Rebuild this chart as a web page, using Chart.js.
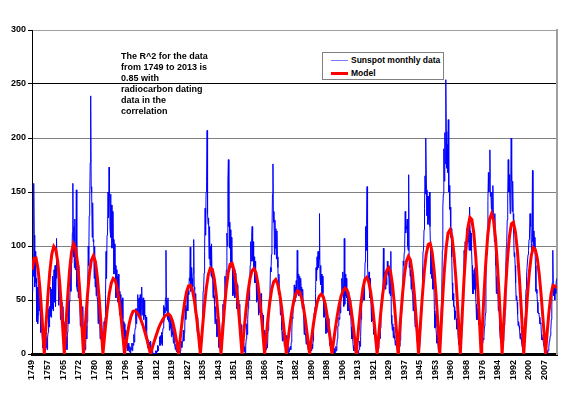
<!DOCTYPE html>
<html>
<head>
<meta charset="utf-8">
<script src="https://cdn.jsdelivr.net/npm/chart.js@4.4.1/dist/chart.umd.min.js"></script>
<style>
  body { margin: 0; background: #fff; }
  #wrap { position: relative; width: 580px; height: 395px; }
  #note {
    position: absolute; left: 121px; top: 51px;
    font: bold 9px "Liberation Sans", Arial, sans-serif;
    line-height: 11.1px; color: #000;
  }
  #legend {
    position: absolute; left: 322px; top: 52px; width: 120px; height: 26px;
    border: 1px solid #808080; background: #fff;
    font: bold 8.5px "Liberation Sans", Arial, sans-serif; color: #000;
  }
  #legend .item { position: absolute; left: 0; height: 12px; line-height: 12px; white-space: nowrap; }
  #legend .swatch { position: absolute; left: 8px; width: 17px; top: 6px; }
  #legend .txt { position: absolute; left: 28px; top: 0; }
</style>
</head>
<body>
<div id="wrap">
  <canvas id="myChart" width="580" height="395"></canvas>
  <div id="note">The R^2 for the data<br>from 1749 to 2013 is<br>0.85 with<br>radiocarbon dating<br>data in the<br>correlation</div>
  <div id="legend"></div>
</div>
<script>
// sunspot numbers, 4 readings per year, starting 1749
const startYear = 1749;
const perYear = 4;
const sunspots = [
  58,88,72,158, 110,62,95,66, 70,30,62,28, 36,64,40,52, 44,20,38,22,
  18,6,16,9, 4,14,3,17, 6,16,4,15, 20,42,25,44, 35,62,34,60,
  42,72,40,62, 78,48,82,44, 70,107,78,88, 76,45,74,50, 58,32,56,35,
  48,26,44,28, 30,12,28,14, 6,16,4,20, 24,50,28,48, 50,88,58,84,
  88,112,158,90, 118,80,125,78, 86,152,62,58, 80,52,82,52, 48,26,42,24,
  40,18,44,20, 12,3,9,4, 10,26,14,30, 60,100,82,128, 140,177,239,155,
  150,108,140,104, 106,70,100,62, 86,54,80,52, 50,28,46,30, 32,14,30,16,
  16,5,13,7, 14,30,18,34, 55,95,70,110, 112,150,126,173, 152,115,148,108,
  138,98,132,104, 106,74,102,78, 82,52,78,55, 72,48,74,46, 58,36,55,38,
  50,30,52,32, 30,14,28,13, 22,10,20,12, 9,3,10,4, 2,7,1,6,
  4,10,3,10, 8,18,11,21, 24,42,28,42, 36,55,38,51, 52,33,55,32,
  42,62,36,50, 52,32,50,35, 36,20,34,22, 14,6,13,7, 5,11,4,12,
  4,1,5,0, 0,1,0,0, 0,3,0,3, 2,8,3,7, 8,16,8,17,
  10,20,8,18, 24,45,30,43, 38,52,96,40, 50,32,52,30, 38,22,36,24,
  32,16,30,18, 21,10,22,10, 10,4,9,3, 2,6,1,7, 0,4,0,3,
  5,12,6,11, 12,22,12,20, 26,45,32,42, 40,60,40,58, 55,70,68,99,
  58,80,60,70, 62,75,106,60, 62,38,56,35, 36,20,34,20, 12,5,13,4,
  6,16,11,20, 35,58,60,75, 95,135,110,150, 160,207,130,120, 126,88,118,82,
  100,72,102,70, 78,52,74,54, 46,28,44,30, 32,16,30,18, 14,6,15,8,
  8,18,11,24, 30,46,36,50, 50,72,55,70, 78,112,100,160, 180,118,122,98,
  115,80,108,84, 82,54,78,56, 78,52,75,55, 66,42,64,45, 50,30,46,30,
  28,13,27,15, 9,4,10,3, 2,7,1,7, 14,28,18,32, 42,64,50,66,
  82,104,86,108, 118,86,104,80, 90,66,86,66, 70,48,68,50, 52,36,50,38,
  55,40,56,37, 38,24,36,23, 22,11,20,12, 10,4,9,6, 22,38,42,52,
  58,80,76,92, 112,148,176,122, 132,92,124,98, 116,88,114,90, 80,55,74,56,
  54,36,52,38, 22,12,21,13, 16,7,15,8, 9,17,10,15, 5,1,6,2,
  2,7,4,11, 20,34,33,44, 45,64,48,62, 52,68,56,96, 70,54,74,56,
  72,54,70,58, 62,42,60,46, 34,18,31,19, 17,9,16,10, 9,4,9,5,
  4,9,3,9, 3,9,5,12, 22,38,40,44, 56,80,68,90, 78,95,80,88,
  130,70,82,64, 74,54,72,56, 50,34,48,35, 33,19,31,22, 34,20,33,20,
  16,8,15,9, 12,6,12,8, 4,1,5,1, 2,7,3,8, 14,26,26,34,
  32,48,38,50, 52,70,58,76, 62,44,107,46, 74,54,70,52, 56,40,58,40,
  52,36,50,38, 25,14,22,14, 7,3,8,4, 2,6,1,5, 0,3,0,3,
  4,12,7,16, 32,52,48,60, 50,66,50,62, 85,118,96,120, 155,80,72,64,
  76,52,70,56, 46,30,44,31, 34,18,32,20, 18,10,17,11, 8,3,7,5,
  9,20,14,24, 32,48,46,56, 58,98,60,66, 76,60,74,64, 72,86,74,82,
  72,56,76,54, 95,36,28,22, 28,15,25,17, 14,8,13,9, 8,3,7,4,
  4,10,7,13, 22,38,40,48, 60,86,82,94, 100,132,112,118, 116,125,100,96,
  166,80,86,72, 78,60,74,58, 56,40,54,42, 37,25,35,25, 20,12,19,13,
  7,11,6,14, 20,32,36,48, 70,95,96,115, 135,165,148,200, 152,128,146,120,
  146,124,150,118, 100,74,92,70, 80,60,76,62, 40,24,37,25, 18,10,17,10,
  3,6,1,8, 16,32,44,62, 96,136,148,190, 160,205,176,254, 206,172,194,168,
  217,150,156,134, 136,108,116,90, 66,50,56,44, 44,32,40,34, 33,23,30,25,
  15,9,9,8, 11,15,15,19, 28,44,48,68, 96,80,104,95, 96,116,102,110,
  104,112,96,136, 114,96,112,96, 82,56,74,56, 78,60,80,58, 46,32,42,32,
  42,27,38,31, 20,11,17,14, 12,10,15,13, 16,26,30,38, 70,95,92,115,
  142,168,150,162, 189,146,150,134, 150,128,156,126, 128,104,130,100, 82,56,72,56,
  60,40,44,38, 22,14,19,16, 14,11,16,12, 18,27,32,41, 76,98,104,124,
  148,180,150,166, 150,130,150,200, 160,132,160,130, 112,90,94,82, 66,50,54,48,
  37,26,30,26, 22,14,19,15, 11,7,7,9, 8,18,26,34, 46,60,72,80,
  80,92,96,106, 112,130,118,118, 96,108,170,104, 114,96,108,98, 82,58,60,56,
  48,38,38,37, 34,28,28,29, 18,13,15,15, 11,8,6,5, 3,3,2,4,
  1,3,3,6, 12,14,17,22, 32,44,66,96, 64,54,62,50, 62,56,68,70
];

// model, one value per year from 1749 to 2014
const model = [
  78, 88.5, 89, 79.5, 61, 35.5, 6, 25, 53, 76.5,
  92.5, 99.7, 97, 85.5, 65.5, 39.5, 9.5, 23, 53, 78,
  95, 102, 98, 84, 61.5, 32.5, 0, 28.5, 54.5, 74.5,
  87, 91, 85.5, 71, 49.5, 23, 4, 23.5, 41.5, 56,
  65.5, 70, 68.5, 61, 49, 33, 14, 4, 16.5, 27.5,
  35, 39.5, 40, 38.5, 35.5, 31.5, 26.5, 20, 13.5, 6,
  1.3, 7.5, 13.5, 19, 24.5, 28.5, 32, 35, 36.5, 37,
  35, 30, 22, 11.5, 0, 17.5, 34, 47.5, 57.5, 63,
  63.5, 59, 49, 35, 18.5, 0, 23, 44, 61, 73.5,
  79.5, 78.5, 70, 55, 34, 10, 15, 39.5, 60, 75,
  83, 84, 77.5, 64.5, 46.5, 24, 0, 21, 40.5, 57,
  69.5, 77, 79, 75.5, 65.5, 50, 31, 9, 12, 31,
  47.5, 60, 67, 69, 65, 56, 43, 26.5, 7.5, 9.5,
  24, 37.5, 48, 55, 58.5, 57.5, 52.5, 43.5, 31.5, 17,
  1.5, 13, 27, 38.5, 48, 53.5, 55.5, 53, 46.5, 35.5,
  22, 6.5, 8.5, 22, 34.5, 45, 53.5, 58.5, 61, 59.5,
  53, 42.5, 28.5, 12, 6.5, 27.5, 46, 60.5, 69, 71,
  66.5, 57, 42.5, 24.5, 4, 17, 37.5, 55, 68.5, 77,
  80, 76, 63.5, 44.5, 20.5, 5.5, 31.5, 55, 73.5, 86,
  90.5, 87, 75, 55.5, 31, 3, 26, 53, 76, 92.5,
  101.5, 102.5, 94, 77, 53.5, 24.5, 7, 42.5, 73.5, 97.5,
  112, 115, 108.5, 92.5, 69, 39.5, 6.5, 31, 67, 96.5,
  117, 126.5, 124.5, 112, 90, 60, 26, 12, 50, 83,
  109, 125, 130, 123.5, 106.5, 80.5, 48, 11.5, 25, 59,
  88, 109, 120.5, 122, 113, 96, 71, 40.5, 7, 24,
  52, 75, 91, 98.5, 97, 89, 74.5, 54.5, 31, 5.5,
  19, 40, 55.5, 63.5, 63, 61
];
// years where the model touches zero between yearly values
const modelZeros = [1755.2, 1765.3, 1784.8, 1795.7, 1808.8, 1844.4, 1866.4, 1877.4,
  1889.1, 1900.4, 1912.7, 1923.2, 1933.8, 1944.1, 1954.8, 1965.2, 1975.7, 1986.3,
  1997.2, 2008.2];

// axis labels, one every 94 months
const tickLabels = ['1749','1757','1765','1772','1780','1788','1796','1804','1812','1819',
  '1827','1835','1843','1851','1859','1866','1874','1882','1890','1898','1906','1913',
  '1921','1929','1937','1945','1953','1960','1968','1976','1984','1992','2000','2007'];
const tickStep = 94 / 12;

const bluePts = sunspots.map((v, i) => ({ x: startYear + (i + 0.5) / perYear, y: v }));
const redPts = model.map((v, i) => ({ x: startYear + i, y: v }))
  .concat(modelZeros.map(z => ({ x: z, y: 0 })))
  .sort((a, b) => a.x - b.x);

const ctx = document.getElementById('myChart');
const labelFont = { family: '"Liberation Sans", Arial, sans-serif', weight: 'bold' };

const chart = new Chart(ctx, {
  type: 'line',
  data: {
    datasets: [
      {
        label: 'Sunspot monthly data',
        data: bluePts,
        borderColor: '#0000ff',
        borderWidth: 1,
        pointRadius: 0,
        order: 2,
        legendColor: '#7b7bff'
      },
      {
        label: 'Model',
        data: redPts,
        borderColor: '#ff0000',
        borderWidth: 3,
        pointRadius: 0,
        order: 1,
        legendColor: '#ff0000'
      }
    ]
  },
  options: {
    responsive: false,
    animation: false,
    layout: { padding: { left: 0, right: 23, top: 30, bottom: 0 } },
    plugins: { legend: { display: false }, tooltip: { enabled: false } },
    scales: {
      x: {
        type: 'linear',
        min: startYear,
        max: 2014,
        afterBuildTicks: s => { s.ticks = tickLabels.map((t, k) => ({ value: startYear + k * tickStep })); },
        afterFit: s => { s.height = 41; },
        grid: { display: false, drawTicks: false },
        border: { display: true, color: '#000', width: 3 },
        ticks: {
          autoSkip: false,
          maxRotation: 90,
          minRotation: 90,
          padding: 6,
          color: '#000',
          font: Object.assign({ size: 9 }, labelFont),
          callback: (v, i) => tickLabels[i]
        }
      },
      y: {
        min: 0,
        max: 300,
        afterFit: s => { s.width = 32; },
        ticks: { stepSize: 50, padding: 2, color: '#000', font: Object.assign({ size: 9 }, labelFont) },
        grid: {
          color: c => (c.tick && c.tick.value === 250) ? '#000' : (c.tick && c.tick.value === 300 ? '#a0a0a0' : '#808080'),
          tickColor: '#000',
          tickLength: 4
        },
        border: { color: '#000', width: 1 }
      },
      y2: {
        position: 'right',
        min: 0,
        max: 300,
        afterFit: s => { s.width = 0; },
        ticks: { display: false },
        grid: { display: false, drawTicks: false },
        border: { color: '#a0a0a0', width: 2 }
      }
    }
  }
});

// legend box inside the plot, built from the datasets
const legend = document.getElementById('legend');
chart.data.datasets.forEach((ds, i) => {
  const row = document.createElement('div');
  row.className = 'item';
  row.style.top = (i * 13.5 + 0.5) + 'px';
  const sw = document.createElement('span');
  sw.className = 'swatch';
  sw.style.borderTop = ds.borderWidth + 'px solid ' + ds.legendColor;
  sw.style.marginTop = (-Math.floor(ds.borderWidth / 2)) + 'px';
  const txt = document.createElement('span');
  txt.className = 'txt';
  txt.textContent = ds.label;
  row.appendChild(sw);
  row.appendChild(txt);
  legend.appendChild(row);
});
</script>
</body>
</html>
